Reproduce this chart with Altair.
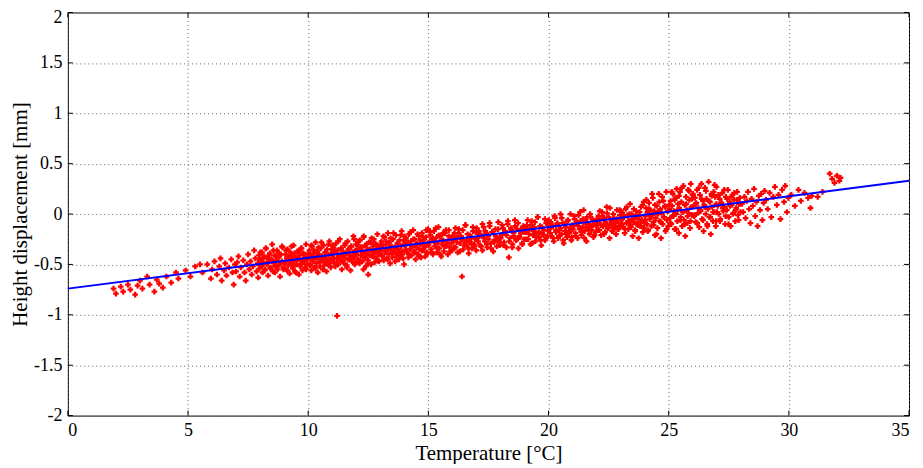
import altair as alt
import pandas as pd

# ---- axis ticks ----
x_ticks = [0, 5, 10, 15, 20, 25, 30, 35]
y_ticks = [-2, -1.5, -1, -0.5, 0, 0.5, 1, 1.5, 2]

# ---- measured points (temperature [°C], height displacement [mm]) ----
pts_02_06 = [
    (1.9, -0.74), (2.0, -0.79), (2.2, -0.72), (2.3, -0.77), (2.5, -0.70), (2.6, -0.75), (2.8, -0.80), (2.9, -0.71),
    (3.0, -0.66), (3.1, -0.74), (3.3, -0.62), (3.4, -0.70), (3.6, -0.77), (3.7, -0.65), (3.8, -0.69), (3.95, -0.73),
    (4.1, -0.62), (4.3, -0.68), (4.5, -0.58), (4.6, -0.64), (4.9, -0.56),
    (5.1, -0.62), (5.3, -0.52), (5.5, -0.50), (5.6, -0.58), (5.8, -0.50), (5.95, -0.64),
]
pts_06_09 = [
    (6.0, -0.55), (6.1, -0.47), (6.2, -0.60), (6.3, -0.52), (6.35, -0.44), (6.4, -0.66), (6.5, -0.56), (6.55, -0.49),
    (6.6, -0.61), (6.7, -0.53), (6.8, -0.45), (6.85, -0.58), (6.9, -0.70), (6.95, -0.50),
    (7.0, -0.57), (7.05, -0.48), (7.1, -0.42), (7.15, -0.62), (7.2, -0.53), (7.3, -0.46), (7.35, -0.58), (7.4, -0.66),
    (7.45, -0.50), (7.5, -0.40), (7.55, -0.55), (7.6, -0.47), (7.65, -0.60), (7.7, -0.52), (7.75, -0.36), (7.8, -0.44),
    (7.85, -0.57), (7.9, -0.49), (7.92, -0.63), (7.95, -0.41), (7.97, -0.54), (7.99, -0.46),
    (8.02, -0.45), (8.05, -0.52), (8.08, -0.38), (8.1, -0.58), (8.13, -0.48), (8.17, -0.42), (8.2, -0.55), (8.23, -0.34),
    (8.27, -0.50), (8.3, -0.44), (8.33, -0.61), (8.37, -0.47), (8.4, -0.39), (8.43, -0.53), (8.47, -0.45), (8.5, -0.30),
    (8.53, -0.57), (8.57, -0.49), (8.6, -0.41), (8.63, -0.52), (8.67, -0.46), (8.7, -0.36), (8.73, -0.55), (8.77, -0.43),
    (8.8, -0.50), (8.83, -0.62), (8.87, -0.40), (8.9, -0.47), (8.93, -0.33), (8.97, -0.53),
]
pts_09_12 = [
    (9.02, -0.48), (9.05, -0.40), (9.08, -0.55), (9.11, -0.44), (9.14, -0.35), (9.17, -0.51), (9.2, -0.46), (9.23, -0.59),
    (9.26, -0.38), (9.3, -0.49), (9.33, -0.42), (9.36, -0.54), (9.39, -0.31), (9.42, -0.47), (9.45, -0.57), (9.48, -0.43),
    (9.52, -0.50), (9.55, -0.37), (9.58, -0.45), (9.61, -0.60), (9.64, -0.41), (9.67, -0.52), (9.7, -0.34), (9.73, -0.46),
    (9.76, -0.56), (9.79, -0.39), (9.82, -0.48), (9.85, -0.43), (9.88, -0.53), (9.91, -0.30), (9.94, -0.45), (9.97, -0.50),
    (10.02, -0.44), (10.05, -0.36), (10.08, -0.51), (10.1, -0.41), (10.13, -0.56), (10.16, -0.32), (10.19, -0.47),
    (10.22, -0.39), (10.25, -0.53), (10.28, -0.43), (10.31, -0.28), (10.34, -0.49), (10.37, -0.37), (10.4, -0.58),
    (10.43, -0.45), (10.46, -0.40), (10.49, -0.52), (10.52, -0.34), (10.55, -0.46), (10.58, -0.42), (10.61, -0.55),
    (10.64, -0.31), (10.67, -0.48), (10.7, -0.38), (10.73, -0.44), (10.76, -0.57), (10.79, -0.35), (10.82, -0.50),
    (10.85, -0.41), (10.88, -0.27), (10.91, -0.46), (10.94, -0.53), (10.96, -0.39), (10.98, -0.44),
    (11.02, -0.40), (11.05, -0.33), (11.08, -0.48), (11.1, -0.37), (11.13, -0.52), (11.16, -0.29), (11.19, -0.44),
    (11.2, -1.01), (11.22, -0.36), (11.25, -0.50), (11.28, -0.41), (11.31, -0.25), (11.34, -0.46), (11.37, -0.34),
    (11.4, -0.55), (11.43, -0.42), (11.46, -0.38), (11.49, -0.49), (11.52, -0.31), (11.55, -0.44), (11.58, -0.39),
    (11.61, -0.53), (11.64, -0.27), (11.67, -0.45), (11.7, -0.35), (11.73, -0.41), (11.76, -0.56), (11.79, -0.32),
    (11.82, -0.47), (11.85, -0.38), (11.88, -0.22), (11.91, -0.43), (11.94, -0.50), (11.96, -0.36), (11.98, -0.40),
    (11.99, -0.30),
]
pts_12_15 = [
    (12.02, -0.37), (12.05, -0.30), (12.08, -0.45), (12.1, -0.34), (12.13, -0.49), (12.16, -0.26), (12.19, -0.41),
    (12.22, -0.33), (12.25, -0.47), (12.28, -0.38), (12.31, -0.22), (12.34, -0.43), (12.37, -0.31), (12.4, -0.52),
    (12.43, -0.39), (12.46, -0.35), (12.49, -0.46), (12.52, -0.28), (12.55, -0.41), (12.58, -0.36), (12.61, -0.50),
    (12.64, -0.24), (12.67, -0.42), (12.7, -0.32), (12.73, -0.38), (12.76, -0.48), (12.79, -0.29), (12.82, -0.44),
    (12.85, -0.35), (12.88, -0.20), (12.91, -0.40), (12.94, -0.47), (12.96, -0.33), (12.98, -0.37), (12.5, -0.60),
    (12.3, -0.55),
    (13.02, -0.34), (13.05, -0.27), (13.08, -0.42), (13.11, -0.31), (13.14, -0.46), (13.17, -0.23), (13.2, -0.38),
    (13.23, -0.30), (13.26, -0.44), (13.29, -0.35), (13.32, -0.19), (13.35, -0.40), (13.38, -0.28), (13.41, -0.49),
    (13.44, -0.36), (13.47, -0.32), (13.5, -0.43), (13.53, -0.25), (13.56, -0.38), (13.59, -0.33), (13.62, -0.47),
    (13.65, -0.21), (13.68, -0.39), (13.71, -0.29), (13.74, -0.35), (13.77, -0.45), (13.8, -0.26), (13.83, -0.41),
    (13.86, -0.32), (13.89, -0.17), (13.92, -0.37), (13.95, -0.44), (13.97, -0.30), (13.99, -0.50),
    (14.03, -0.31), (14.07, -0.24), (14.1, -0.38), (14.13, -0.28), (14.17, -0.43), (14.2, -0.20), (14.23, -0.35),
    (14.27, -0.27), (14.3, -0.41), (14.33, -0.32), (14.37, -0.16), (14.4, -0.37), (14.43, -0.25), (14.47, -0.45),
    (14.5, -0.33), (14.53, -0.29), (14.57, -0.40), (14.6, -0.22), (14.63, -0.35), (14.67, -0.30), (14.7, -0.43),
    (14.73, -0.19), (14.77, -0.36), (14.8, -0.26), (14.83, -0.32), (14.87, -0.42), (14.9, -0.23), (14.93, -0.38),
    (14.97, -0.29), (14.99, -0.15),
]
pts_15_20 = [
    (15.04, -0.28), (15.08, -0.21), (15.12, -0.35), (15.15, -0.25), (15.19, -0.40), (15.23, -0.17), (15.27, -0.32),
    (15.31, -0.24), (15.35, -0.38), (15.38, -0.29), (15.42, -0.13), (15.46, -0.34), (15.5, -0.22), (15.54, -0.42),
    (15.58, -0.30), (15.62, -0.26), (15.65, -0.37), (15.69, -0.19), (15.73, -0.32), (15.77, -0.27), (15.81, -0.40),
    (15.85, -0.16), (15.88, -0.33), (15.92, -0.23), (15.96, -0.29), (15.99, -0.36),
    (16.04, -0.26), (16.09, -0.19), (16.13, -0.33), (16.18, -0.23), (16.22, -0.38), (16.27, -0.15), (16.31, -0.29),
    (16.36, -0.22), (16.4, -0.62), (16.45, -0.35), (16.5, -0.27), (16.54, -0.11), (16.59, -0.31), (16.63, -0.20),
    (16.68, -0.39), (16.72, -0.28), (16.77, -0.24), (16.81, -0.34), (16.86, -0.17), (16.9, -0.30), (16.95, -0.25),
    (16.99, -0.36),
    (17.05, -0.24), (17.1, -0.17), (17.15, -0.31), (17.2, -0.21), (17.25, -0.36), (17.3, -0.13), (17.35, -0.27),
    (17.4, -0.19), (17.45, -0.33), (17.5, -0.25), (17.55, -0.09), (17.6, -0.29), (17.65, -0.18), (17.7, -0.37),
    (17.75, -0.26), (17.8, -0.22), (17.85, -0.32), (17.9, -0.15), (17.95, -0.28), (17.99, -0.23),
    (18.05, -0.21), (18.1, -0.14), (18.15, -0.28), (18.2, -0.18), (18.25, -0.33), (18.3, -0.10), (18.35, -0.43),
    (18.4, -0.24), (18.45, -0.16), (18.5, -0.30), (18.55, -0.22), (18.6, -0.06), (18.65, -0.26), (18.7, -0.15),
    (18.75, -0.34), (18.8, -0.23), (18.85, -0.19), (18.9, -0.29), (18.95, -0.12), (18.99, -0.25),
    (19.05, -0.18), (19.1, -0.11), (19.15, -0.25), (19.2, -0.15), (19.25, -0.30), (19.3, -0.07), (19.35, -0.21),
    (19.4, -0.13), (19.45, -0.27), (19.5, -0.19), (19.55, -0.03), (19.6, -0.23), (19.65, -0.12), (19.7, -0.31),
    (19.75, -0.20), (19.8, -0.16), (19.85, -0.26), (19.9, -0.09), (19.95, -0.22), (19.99, -0.17),
]
pts_20_24 = [
    (20.04, -0.15), (20.09, -0.08), (20.13, -0.22), (20.18, -0.12), (20.22, -0.27), (20.27, -0.04), (20.31, -0.18),
    (20.36, -0.10), (20.4, -0.24), (20.45, -0.16), (20.5, 0.00), (20.54, -0.20), (20.59, -0.09), (20.63, -0.29),
    (20.68, -0.17), (20.72, -0.13), (20.77, -0.23), (20.81, -0.06), (20.86, -0.19), (20.9, -0.14), (20.95, -0.26),
    (20.99, -0.11),
    (21.04, -0.12), (21.08, -0.05), (21.12, -0.19), (21.17, -0.09), (21.21, -0.24), (21.25, -0.01), (21.29, -0.15),
    (21.33, -0.07), (21.37, -0.21), (21.42, -0.13), (21.46, 0.04), (21.5, -0.17), (21.54, -0.06), (21.58, -0.27),
    (21.62, -0.14), (21.67, -0.10), (21.71, -0.20), (21.75, -0.03), (21.79, -0.16), (21.83, -0.11), (21.87, -0.23),
    (21.92, -0.08), (21.96, -0.18), (21.99, -0.12),
    (22.04, -0.09), (22.08, -0.02), (22.12, -0.16), (22.15, -0.06), (22.19, -0.21), (22.23, 0.02), (22.27, -0.12),
    (22.31, -0.04), (22.35, -0.18), (22.38, -0.10), (22.42, 0.07), (22.46, -0.14), (22.5, -0.03), (22.54, -0.24),
    (22.58, -0.11), (22.62, -0.07), (22.65, -0.17), (22.69, 0.00), (22.73, -0.13), (22.77, -0.08), (22.81, -0.20),
    (22.85, -0.05), (22.88, -0.15), (22.92, -0.09), (22.96, 0.04), (22.99, -0.12),
    (23.03, -0.06), (23.07, 0.01), (23.1, -0.13), (23.14, -0.03), (23.17, -0.19), (23.21, 0.05), (23.25, -0.09),
    (23.28, -0.01), (23.32, -0.15), (23.35, -0.07), (23.39, 0.10), (23.42, -0.11), (23.46, 0.00), (23.5, -0.22),
    (23.53, -0.08), (23.57, -0.04), (23.6, -0.16), (23.64, 0.03), (23.67, -0.10), (23.71, -0.05), (23.75, -0.24),
    (23.78, -0.02), (23.82, -0.12), (23.85, 0.07), (23.89, -0.06), (23.92, -0.18), (23.96, 0.12), (23.99, -0.09),
]
pts_24_27 = [
    (24.03, -0.02), (24.06, 0.06), (24.09, -0.10), (24.12, 0.02), (24.15, -0.16), (24.18, 0.11), (24.21, -0.05),
    (24.25, 0.04), (24.28, -0.12), (24.31, -0.01), (24.34, 0.16), (24.37, -0.08), (24.4, 0.03), (24.43, -0.21),
    (24.46, -0.04), (24.5, 0.08), (24.53, -0.14), (24.56, 0.00), (24.59, 0.20), (24.62, -0.07), (24.65, 0.05),
    (24.68, -0.24), (24.71, 0.01), (24.75, -0.10), (24.78, 0.13), (24.81, -0.03), (24.84, 0.07), (24.87, -0.17),
    (24.9, 0.22), (24.93, -0.06), (24.96, 0.03), (24.99, -0.12),
    (25.03, 0.05), (25.06, -0.04), (25.08, 0.13), (25.11, -0.10), (25.14, 0.08), (25.17, 0.20), (25.19, -0.02),
    (25.22, 0.03), (25.25, -0.15), (25.28, 0.16), (25.31, 0.00), (25.33, 0.25), (25.36, -0.07), (25.39, 0.10),
    (25.42, -0.19), (25.44, 0.06), (25.47, 0.22), (25.5, -0.03), (25.53, 0.12), (25.56, -0.12), (25.58, 0.02),
    (25.61, 0.28), (25.64, -0.06), (25.67, 0.09), (25.69, -0.22), (25.72, 0.17), (25.75, 0.04), (25.78, -0.09),
    (25.81, 0.24), (25.83, 0.01), (25.86, 0.14), (25.89, -0.14), (25.92, 0.30), (25.94, 0.07), (25.97, -0.01),
    (25.99, 0.19),
    (26.03, 0.08), (26.06, -0.02), (26.09, 0.16), (26.12, -0.08), (26.15, 0.11), (26.18, 0.24), (26.21, 0.01),
    (26.24, 0.06), (26.27, -0.13), (26.3, 0.19), (26.33, 0.03), (26.36, 0.30), (26.39, -0.05), (26.42, 0.13),
    (26.45, -0.17), (26.48, 0.09), (26.51, 0.26), (26.54, 0.00), (26.57, 0.15), (26.6, -0.10), (26.63, 0.05),
    (26.66, 0.32), (26.69, -0.03), (26.72, 0.12), (26.75, -0.20), (26.78, 0.20), (26.81, 0.07), (26.84, -0.07),
    (26.87, 0.22), (26.9, 0.02), (26.93, 0.17), (26.96, -0.12), (26.98, 0.10), (26.99, 0.27),
]
pts_27_33 = [
    (27.04, 0.08), (27.08, 0.00), (27.12, 0.15), (27.15, -0.05), (27.19, 0.11), (27.23, 0.21), (27.27, 0.03),
    (27.31, 0.07), (27.35, -0.10), (27.38, 0.17), (27.42, 0.04), (27.46, 0.24), (27.5, -0.03), (27.54, 0.12),
    (27.58, -0.12), (27.62, 0.09), (27.65, 0.19), (27.69, 0.01), (27.73, 0.14), (27.77, -0.07), (27.81, 0.06),
    (27.85, 0.22), (27.88, -0.01), (27.92, 0.10), (27.96, 0.16), (27.99, 0.02),
    (28.05, 0.10), (28.1, 0.02), (28.15, 0.17), (28.2, -0.04), (28.25, 0.13), (28.3, 0.22), (28.35, 0.05),
    (28.4, -0.09), (28.45, 0.15), (28.5, 0.08), (28.55, 0.25), (28.6, -0.02), (28.65, 0.12), (28.7, -0.12),
    (28.75, 0.18), (28.8, 0.04), (28.85, 0.20), (28.9, -0.06), (28.95, 0.11), (28.99, 0.23),
    (29.05, 0.14), (29.12, 0.05), (29.2, 0.21), (29.27, -0.03), (29.35, 0.17), (29.42, 0.27), (29.5, 0.09),
    (29.57, 0.19), (29.65, -0.05), (29.72, 0.24), (29.8, 0.12), (29.85, 0.28), (29.92, 0.02), (29.98, 0.16),
    (30.1, 0.19), (30.25, 0.08), (30.4, 0.24), (30.5, 0.13), (30.65, 0.21), (30.8, 0.16), (30.9, 0.06), (30.95, 0.18),
    (31.2, 0.17), (31.4, 0.22), (31.7, 0.40), (31.8, 0.35), (31.9, 0.31), (32.0, 0.38), (32.1, 0.33), (32.15, 0.36),
]
# second pass through the dense core of the cloud
pts_core_08_13 = [
    (8.01, -0.38), (8.07, -0.51), (8.13, -0.44), (8.19, -0.56), (8.25, -0.34), (8.31, -0.48), (8.37, -0.41), (8.43, -0.54),
    (8.49, -0.46), (8.55, -0.36), (8.61, -0.58), (8.67, -0.42), (8.73, -0.52), (8.79, -0.39), (8.85, -0.49), (8.91, -0.32),
    (8.97, -0.55),
    (9.01, -0.49), (9.07, -0.36), (9.13, -0.56), (9.19, -0.42), (9.25, -0.46), (9.31, -0.32), (9.37, -0.52), (9.43, -0.39),
    (9.49, -0.58), (9.55, -0.44), (9.61, -0.37), (9.67, -0.50), (9.73, -0.34), (9.79, -0.47), (9.85, -0.40), (9.91, -0.55),
    (9.97, -0.43),
    (10.01, -0.39), (10.07, -0.50), (10.13, -0.31), (10.19, -0.45), (10.25, -0.36), (10.31, -0.54), (10.37, -0.42),
    (10.43, -0.33), (10.49, -0.48), (10.55, -0.28), (10.61, -0.43), (10.67, -0.51), (10.73, -0.38), (10.79, -0.46),
    (10.85, -0.30), (10.91, -0.49), (10.97, -0.35),
    (11.01, -0.31), (11.07, -0.44), (11.13, -0.37), (11.19, -0.49), (11.25, -0.27), (11.31, -0.41), (11.37, -0.34),
    (11.43, -0.47), (11.49, -0.39), (11.55, -0.29), (11.61, -0.51), (11.67, -0.35), (11.73, -0.45), (11.79, -0.32),
    (11.85, -0.42), (11.91, -0.25), (11.97, -0.48),
    (12.01, -0.40), (12.07, -0.27), (12.13, -0.47), (12.19, -0.33), (12.25, -0.37), (12.31, -0.23), (12.37, -0.43),
    (12.43, -0.30), (12.49, -0.49), (12.55, -0.35), (12.61, -0.28), (12.67, -0.41), (12.73, -0.25), (12.79, -0.38),
    (12.85, -0.31), (12.91, -0.46), (12.97, -0.34),
]
pts_core_13_18 = [
    (13.01, -0.30), (13.07, -0.41), (13.13, -0.22), (13.19, -0.36), (13.25, -0.27), (13.31, -0.45), (13.37, -0.33),
    (13.43, -0.24), (13.49, -0.39), (13.55, -0.19), (13.61, -0.34), (13.67, -0.42), (13.73, -0.29), (13.79, -0.37),
    (13.85, -0.21), (13.91, -0.40), (13.97, -0.26),
    (14.01, -0.22), (14.07, -0.35), (14.13, -0.28), (14.19, -0.40), (14.25, -0.18), (14.31, -0.32), (14.37, -0.25),
    (14.43, -0.38), (14.49, -0.30), (14.55, -0.20), (14.61, -0.42), (14.67, -0.26), (14.73, -0.36), (14.79, -0.23),
    (14.85, -0.33), (14.91, -0.16), (14.97, -0.39),
    (15.01, -0.31), (15.07, -0.18), (15.13, -0.38), (15.19, -0.24), (15.25, -0.28), (15.31, -0.14), (15.37, -0.34),
    (15.43, -0.21), (15.49, -0.40), (15.55, -0.26), (15.61, -0.19), (15.67, -0.32), (15.73, -0.16), (15.79, -0.29),
    (15.85, -0.22), (15.91, -0.37), (15.97, -0.25),
    (16.01, -0.22), (16.07, -0.33), (16.13, -0.14), (16.19, -0.28), (16.25, -0.19), (16.31, -0.37), (16.37, -0.25),
    (16.43, -0.16), (16.49, -0.31), (16.55, -0.11), (16.61, -0.26), (16.67, -0.34), (16.73, -0.21), (16.79, -0.29),
    (16.85, -0.13), (16.91, -0.32), (16.97, -0.18),
    (17.01, -0.14), (17.07, -0.27), (17.13, -0.20), (17.19, -0.32), (17.25, -0.10), (17.31, -0.24), (17.37, -0.17),
    (17.43, -0.30), (17.49, -0.22), (17.55, -0.12), (17.61, -0.34), (17.67, -0.18), (17.73, -0.28), (17.79, -0.15),
    (17.85, -0.25), (17.91, -0.08), (17.97, -0.31),
]
pts_core_18_23 = [
    (18.01, -0.24), (18.07, -0.11), (18.13, -0.31), (18.19, -0.17), (18.25, -0.21), (18.31, -0.07), (18.37, -0.27),
    (18.43, -0.14), (18.49, -0.33), (18.55, -0.19), (18.61, -0.12), (18.67, -0.25), (18.73, -0.09), (18.79, -0.22),
    (18.85, -0.15), (18.91, -0.30), (18.97, -0.18),
    (19.01, -0.14), (19.07, -0.25), (19.13, -0.06), (19.19, -0.20), (19.25, -0.11), (19.31, -0.29), (19.37, -0.17),
    (19.43, -0.08), (19.49, -0.23), (19.55, -0.03), (19.61, -0.18), (19.67, -0.26), (19.73, -0.13), (19.79, -0.21),
    (19.85, -0.05), (19.91, -0.24), (19.97, -0.10),
    (20.01, -0.06), (20.07, -0.19), (20.13, -0.12), (20.19, -0.24), (20.25, -0.02), (20.31, -0.16), (20.37, -0.09),
    (20.43, -0.22), (20.49, -0.14), (20.55, -0.04), (20.61, -0.26), (20.67, -0.10), (20.73, -0.20), (20.79, -0.07),
    (20.85, -0.17), (20.91, 0.00), (20.97, -0.23),
    (21.01, -0.15), (21.07, -0.02), (21.13, -0.22), (21.19, -0.08), (21.25, -0.12), (21.31, 0.02), (21.37, -0.18),
    (21.43, -0.05), (21.49, -0.24), (21.55, -0.10), (21.61, -0.03), (21.67, -0.16), (21.73, 0.00), (21.79, -0.13),
    (21.85, -0.06), (21.91, -0.21), (21.97, -0.09),
    (22.01, -0.05), (22.07, -0.16), (22.13, 0.03), (22.19, -0.11), (22.25, -0.02), (22.31, -0.20), (22.37, -0.08),
    (22.43, 0.01), (22.49, -0.14), (22.55, 0.06), (22.61, -0.09), (22.67, -0.17), (22.73, -0.04), (22.79, -0.12),
    (22.85, 0.04), (22.91, -0.15), (22.97, -0.01),
]
pts_core_23_28 = [
    (23.01, 0.03), (23.07, -0.10), (23.13, -0.03), (23.19, -0.15), (23.25, 0.07), (23.31, -0.07), (23.37, 0.00),
    (23.43, -0.13), (23.49, -0.05), (23.55, 0.05), (23.61, -0.17), (23.67, -0.01), (23.73, -0.11), (23.79, 0.02),
    (23.85, -0.08), (23.91, 0.09), (23.97, -0.14),
    (24.01, -0.06), (24.07, 0.14), (24.13, -0.17), (24.19, 0.05), (24.25, -0.02), (24.31, 0.20), (24.37, -0.11),
    (24.43, 0.09), (24.49, -0.20), (24.55, 0.02), (24.61, 0.12), (24.67, -0.08), (24.73, 0.17), (24.79, -0.03),
    (24.85, 0.08), (24.91, -0.15), (24.97, 0.03),
    (25.01, 0.09), (25.07, -0.09), (25.13, 0.22), (25.19, -0.01), (25.25, 0.14), (25.31, -0.15), (25.37, 0.04),
    (25.43, 0.18), (25.49, -0.06), (25.55, 0.26), (25.61, 0.02), (25.67, -0.10), (25.73, 0.10), (25.79, -0.02),
    (25.85, 0.23), (25.91, -0.07), (25.97, 0.15),
    (26.01, 0.20), (26.07, -0.01), (26.13, 0.10), (26.19, -0.09), (26.25, 0.26), (26.31, 0.04), (26.37, 0.15),
    (26.43, -0.06), (26.49, 0.07), (26.55, 0.23), (26.61, -0.12), (26.67, 0.13), (26.73, -0.03), (26.79, 0.18),
    (26.85, 0.02), (26.91, 0.29), (26.97, -0.07),
    (27.01, 0.02), (27.07, 0.19), (27.13, -0.07), (27.19, 0.11), (27.25, 0.06), (27.31, 0.24), (27.37, -0.02),
    (27.43, 0.15), (27.49, -0.10), (27.55, 0.08), (27.61, 0.17), (27.67, 0.00), (27.73, 0.21), (27.79, 0.04),
    (27.85, 0.14), (27.91, -0.06), (27.97, 0.10),
]

# ---- linear fit ----
fit_temp = [0, 35]
fit_disp = [-0.74, 0.33]

W, H = 843, 404
FONT = "Liberation Serif"

points = pd.DataFrame(
    pts_02_06 + pts_06_09 + pts_09_12 + pts_12_15 + pts_15_20 + pts_20_24 + pts_24_27 + pts_27_33
    + pts_core_08_13 + pts_core_13_18 + pts_core_18_23 + pts_core_23_28,
    columns=["temp", "disp"],
)
fit = pd.DataFrame({"temp": fit_temp, "disp": fit_disp})
xt = pd.DataFrame({"temp": x_ticks})
yt = pd.DataFrame({"disp": y_ticks})

xs = alt.Scale(domain=[0, 35], nice=False, zero=False)
ys = alt.Scale(domain=[-2, 2], nice=False, zero=False)

x_axis = alt.Axis(values=x_ticks, title="Temperature [°C]", labelExpr="toString(datum.value)")
y_axis = alt.Axis(
    values=y_ticks, title="Height displacement [mm]", labelExpr="toString(datum.value)",
    labelOffset={"condition": {"test": "datum.value == 2", "value": 5}, "value": 0},
)

X = alt.X("temp:Q", scale=xs, axis=x_axis)
Y = alt.Y("disp:Q", scale=ys, axis=y_axis)

scatter = alt.Chart(points).mark_point(
    shape="cross", filled=True, size=32, color="#ff0000", opacity=1
).encode(x=X, y=Y)

line = alt.Chart(fit).mark_line(color="#0000ff", strokeWidth=2).encode(x=X, y=Y)

xtick_bottom = alt.Chart(xt).mark_rule(color="black", strokeWidth=1).encode(
    x=X, y=alt.value(H), y2=alt.value(H - 5)
)
xtick_top = alt.Chart(xt).mark_rule(color="black", strokeWidth=1).encode(
    x=X, y=alt.value(0), y2=alt.value(5)
)
ytick_left = alt.Chart(yt).mark_rule(color="black", strokeWidth=1).encode(
    y=Y, x=alt.value(0), x2=alt.value(5)
)
ytick_right = alt.Chart(yt).mark_rule(color="black", strokeWidth=1).encode(
    y=Y, x=alt.value(W), x2=alt.value(W - 5)
)

chart = alt.layer(
    scatter, line, xtick_bottom, xtick_top, ytick_left, ytick_right
).properties(
    width=W, height=H,
    autosize=alt.AutoSizeParams(type="none"),
    padding={"left": 60, "top": 4, "right": 6, "bottom": 48},
).configure_view(
    stroke="black", strokeWidth=1
).configure_axis(
    labelFont=FONT, labelFontSize=18, labelColor="black",
    titleFont=FONT, titleFontSize=21, titleFontWeight="normal", titleColor="black",
    grid=True, gridColor="#666666", gridDash=[1, 3], gridWidth=1, gridOpacity=1,
    domain=False, ticks=False, labelPadding=6, titlePadding=3,
)

chart.save("out.html", embed_options={"renderer": "svg", "actions": False})
